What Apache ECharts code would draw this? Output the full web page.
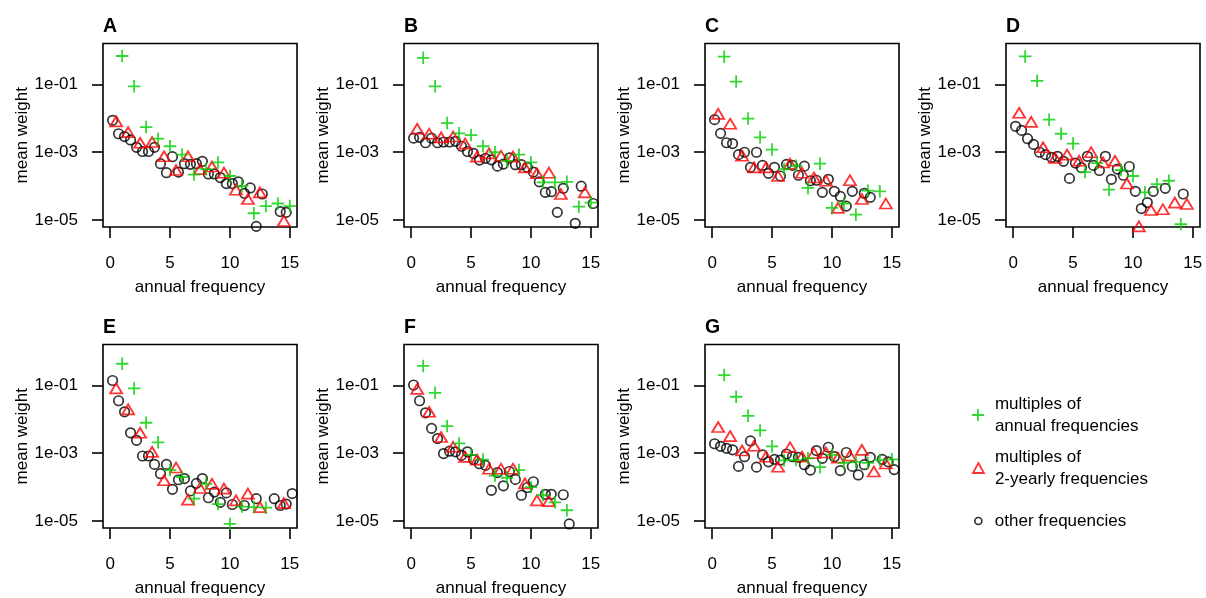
<!DOCTYPE html>
<html>
<head>
<meta charset="utf-8">
<script src="https://cdn.jsdelivr.net/npm/echarts@6/dist/echarts.min.js"></script>
<style>
html,body{margin:0;padding:0;background:#ffffff;}
#chart{width:1206px;height:598px;}
</style>
</head>
<body>
<div id="chart"></div>
<script>
// ---------------- data (mean weights) ----------------
const panelLabels = ['A', 'B', 'C', 'D', 'E', 'F', 'G'];
const xTicks = [0, 5, 10, 15];
const yTickExponents = [-5, -3, -1];

const annualFreq   = [1, 2, 3, 4, 5, 6, 7, 8, 9, 10, 11, 12, 13, 14, 15];
const biyearlyFreq = [0.5, 1.5, 2.5, 3.5, 4.5, 5.5, 6.5, 7.5, 8.5, 9.5, 10.5, 11.5, 12.5, 13.5, 14.5];
const otherFreq    = [0.2, 0.7, 1.2, 1.7, 2.2, 2.7, 3.2, 3.7, 4.2, 4.7, 5.2, 5.7, 6.2, 6.7, 7.2, 7.7,
                      8.2, 8.7, 9.2, 9.7, 10.2, 10.7, 11.2, 11.7, 12.2, 12.7, 13.2, 13.7, 14.2, 14.7, 15.2];

// Panel A
const A_annual   = [6.8e-1, 8.7e-2, 5.5e-3, 2.5e-3, 1.5e-3, 8.5e-4, 2.2e-4, 3.2e-4, 5.0e-4, 2.0e-4, 1.0e-4, 1.6e-5, 2.6e-5, 3.1e-5, 2.6e-5];
const A_biyearly = [8.1e-3, 3.9e-3, 1.9e-3, 2.0e-3, 7.6e-4, 3.0e-4, 7.6e-4, 3.2e-4, 3.8e-4, 2.5e-4, 7.9e-5, 4.2e-5, 6.6e-5, null, 9.5e-6];
const A_other    = [8.7e-3, 3.5e-3, 2.9e-3, 2.3e-3, 1.4e-3, 1.05e-3, 1.05e-3, 1.4e-3, 4.6e-4, 2.5e-4, 7.4e-4, 2.6e-4, 4.6e-4, 4.4e-4, 4.6e-4, 5.4e-4,
                    2.3e-4, 2.3e-4, 1.8e-4, 1.2e-4, 1.2e-4, 1.35e-4, 6.2e-5, 8.9e-5, 6.6e-6, 5.9e-5, null, null, 1.8e-5, 1.7e-5, null];
// Panel B
const B_annual   = [6.0e-1, 8.7e-2, 7.2e-3, 3.6e-3, 3.2e-3, 1.5e-3, 1.0e-3, 5.6e-4, 8.5e-4, 5.0e-4, 1.3e-4, 1.3e-4, 1.35e-4, 2.5e-5, 3.3e-5];
const B_biyearly = [4.9e-3, 3.5e-3, 2.75e-3, 2.9e-3, 1.8e-3, 7.4e-4, 9.3e-4, 7.9e-4, 7.4e-4, 3.6e-4, 2.4e-4, 2.5e-4, 5.9e-5, null, 6.6e-5];
const B_other    = [2.6e-3, 2.75e-3, 1.9e-3, 2.6e-3, 1.9e-3, 2.0e-3, 2.0e-3, 2.1e-3, 1.5e-3, 1.05e-3, 9.3e-4, 5.9e-4, 6.6e-4, 6.0e-4, 3.9e-4, 4.5e-4,
                    6.8e-4, 4.3e-4, 4.3e-4, 3.6e-4, 2.6e-4, 1.35e-4, 6.6e-5, 6.9e-5, 1.7e-5, 8.7e-5, null, 8.1e-6, 1.0e-4, null, 3.1e-5];
// Panel C
const C_annual   = [6.5e-1, 1.2e-1, 9.8e-3, 2.75e-3, 1.2e-3, 3.2e-4, 4.0e-4, 8.9e-5, 4.6e-4, 2.3e-5, 3.1e-5, 1.45e-5, 7.4e-5, 7.1e-5, null];
const C_biyearly = [1.35e-2, 6.9e-3, 7.9e-4, 3.6e-4, 3.6e-4, 2.0e-4, 4.6e-4, 2.5e-4, 1.8e-4, 1.45e-4, 2.3e-5, 1.5e-4, 4.2e-5, null, 3.1e-5];
const C_other    = [9.1e-3, 3.6e-3, 1.9e-3, 1.8e-3, 8.5e-4, 1.0e-3, 3.6e-4, 1.0e-3, 4.1e-4, 2.4e-4, 3.6e-4, 2.0e-4, 4.4e-4, 4.1e-4, 2.1e-4, 3.9e-4,
                    1.45e-4, 1.5e-4, 6.6e-5, 1.6e-4, 7.1e-5, 5.0e-5, 2.6e-5, 7.1e-5, null, 6.2e-5, 4.7e-5, null, null, null, null];
// Panel D
const D_annual   = [6.6e-1, 1.26e-1, 9.1e-3, 3.5e-3, 1.8e-3, 2.6e-4, 4.8e-4, 7.9e-5, 3.0e-4, 2.0e-4, 6.6e-5, 1.15e-4, 1.45e-4, 7.6e-6, null];
const D_biyearly = [1.45e-2, 7.8e-3, 1.4e-3, 6.8e-4, 8.5e-4, 5.6e-4, 1.0e-3, 5.0e-4, 5.6e-4, 1.2e-4, 6.6e-6, 2.0e-5, 2.1e-5, 3.3e-5, 3.0e-5];
const D_other    = [5.8e-3, 4.4e-3, 2.5e-3, 1.7e-3, 1.0e-3, 8.5e-4, 7.1e-4, 7.6e-4, 5.4e-4, 1.7e-4, 4.8e-4, 3.5e-4, 7.6e-4, 4.1e-4, 2.9e-4, 7.6e-4,
                    1.6e-4, 3.2e-4, 2.1e-4, 3.8e-4, 7.1e-5, 2.2e-5, 3.3e-5, 7.1e-5, null, 8.7e-5, null, null, 5.9e-5, null, null];
// Panel E
const E_annual   = [4.3e-1, 8.1e-2, 7.9e-3, 2.1e-3, 3.2e-4, 2.0e-4, 4.6e-5, 1.26e-4, 3.2e-5, 8.3e-6, 2.7e-5, 2.6e-5, 2.5e-5, null, null];
const E_biyearly = [8.1e-2, 1.95e-2, 4.0e-3, 1.1e-3, 1.6e-4, 3.8e-4, 4.3e-5, 9.5e-5, 1.26e-4, 9.1e-5, 4.1e-5, 6.5e-5, 2.6e-5, null, 3.4e-5];
const E_other    = [1.38e-1, 3.5e-2, 1.66e-2, 4.0e-3, 2.4e-3, 8.3e-4, 8.3e-4, 4.7e-4, 2.5e-4, 4.7e-4, 8.7e-5, 1.66e-4, 1.8e-4, 7.8e-5, 1.3e-4, 1.8e-4,
                    4.9e-5, 7.2e-5, 3.6e-5, 6.8e-5, 3.1e-5, null, 2.9e-5, null, 4.6e-5, null, null, 4.6e-5, 2.9e-5, 3.2e-5, 6.5e-5];
// Panel F
const F_annual   = [3.7e-1, 6.0e-2, 6.3e-3, 1.95e-3, 8.9e-4, 6.5e-4, 2.2e-4, 1.9e-4, 3.2e-4, 1.0e-4, 5.8e-5, 3.6e-5, 2.1e-5, null, null];
const F_biyearly = [7.8e-2, 1.66e-2, 3.0e-3, 1.55e-3, 7.8e-4, 6.5e-4, 3.5e-4, 3.5e-4, 3.5e-4, 1.3e-4, 4.1e-5, 3.9e-5, null, null, null];
const F_other    = [1.02e-1, 3.5e-2, 1.55e-2, 5.4e-3, 2.7e-3, 9.8e-4, 1.15e-3, 1.1e-3, 8.7e-4, 1.1e-3, 6.5e-4, 4.9e-4, 4.4e-4, 8.1e-5, 2.7e-4, 1.1e-4,
                    2.9e-4, 1.7e-4, 5.8e-5, 9.8e-5, 1.45e-4, null, 6.2e-5, 6.2e-5, null, 6.0e-5, 8.3e-6, null, null, null, null];
// Panel G
const G_annual   = [2.0e-1, 4.6e-2, 1.26e-2, 4.7e-3, 1.6e-3, 6.2e-4, 6.3e-4, 7.1e-4, 3.9e-4, 8.9e-4, 5.2e-4, 5.6e-4, 5.2e-4, 6.3e-4, 6.6e-4];
const G_biyearly = [5.9e-3, 3.2e-3, 1.2e-3, 1.66e-3, 7.9e-4, 4.0e-4, 1.5e-3, 7.9e-4, 1.0e-3, 1.05e-3, 7.4e-4, 8.5e-4, 1.26e-3, 2.9e-4, 5.0e-4];
const G_other    = [1.9e-3, 1.6e-3, 1.4e-3, 1.26e-3, 4.1e-4, 7.9e-4, 2.3e-3, 3.9e-4, 8.9e-4, 5.6e-4, 6.6e-4, 6.3e-4, 9.5e-4, 7.9e-4, 7.6e-4, 4.6e-4,
                    3.2e-4, 1.2e-3, 7.1e-4, 1.5e-3, 7.9e-4, 3.1e-4, 1.05e-3, 4.1e-4, 2.3e-4, 4.6e-4, 7.6e-4, null, 6.6e-4, 5.6e-4, 3.3e-4];

const legendNames = ['multiples of\nannual frequencies', 'multiples of\n2-yearly frequencies', 'other frequencies'];

// ---------------- chart ----------------
const annualSets   = [A_annual, B_annual, C_annual, D_annual, E_annual, F_annual, G_annual];
const biyearlySets = [A_biyearly, B_biyearly, C_biyearly, D_biyearly, E_biyearly, F_biyearly, G_biyearly];
const otherSets    = [A_other, B_other, C_other, D_other, E_other, F_other, G_other];

const FONT = '"Liberation Sans", Arial, Helvetica, sans-serif';
const GREEN = '#00CD00', RED = '#FF0000', BLACK = '#000000';
const PLUS = 'path://M0,6L12,6M6,0L6,12';

const colLeft = [103, 404, 705, 1006];
const rowTop = [43.5, 344.5];
const gridW = 194, gridH = 183.5;

function pairs(xs, ws) {
  const out = [];
  for (let i = 0; i < xs.length; i++) {
    if (ws[i] != null) out.push([xs[i], Math.log10(ws[i])]);
  }
  return out;
}
function expLabel(v) {
  const e = Math.round(v);
  const a = Math.abs(e);
  return '1e' + (e < 0 ? '-' : '+') + (a < 10 ? '0' + a : String(a));
}

const grids = [], xAxes = [], yAxes = [], titles = [], series = [];
panelLabels.forEach((lab, p) => {
  const left = colLeft[p % 4], top = rowTop[Math.floor(p / 4)];
  grids.push({left: left, top: top, width: gridW, height: gridH, show: true,
              borderColor: BLACK, borderWidth: 1.6, backgroundColor: 'transparent', containLabel: false});
  titles.push({text: lab, left: left, top: top - 27, padding: 0,
               textStyle: {fontFamily: FONT, fontSize: 19.5, fontWeight: 'bold', color: BLACK}});
  xAxes.push({
    type: 'value', gridIndex: p, position: 'bottom', min: -0.6, max: 15.6,
    name: 'annual frequency', nameLocation: 'middle', nameGap: 52,
    nameTextStyle: {fontFamily: FONT, fontSize: 17, color: BLACK},
    axisLine: {show: false, onZero: false},
    axisTick: {show: true, inside: false, length: 11, customValues: xTicks, lineStyle: {color: BLACK, width: 1.6}},
    axisLabel: {show: true, margin: 28, customValues: xTicks, fontFamily: FONT, fontSize: 17, color: BLACK},
    splitLine: {show: false}
  });
  yAxes.push({
    type: 'value', gridIndex: p, position: 'left', min: -5.2, max: 0.2,
    name: 'mean weight', nameLocation: 'middle', nameGap: 72, nameRotate: 90,
    nameTextStyle: {fontFamily: FONT, fontSize: 17, color: BLACK},
    axisLine: {show: false, onZero: false},
    axisTick: {show: true, inside: false, length: 11, customValues: yTickExponents, lineStyle: {color: BLACK, width: 1.6}},
    axisLabel: {show: true, margin: 25, customValues: yTickExponents, formatter: expLabel,
                fontFamily: FONT, fontSize: 17, color: BLACK},
    splitLine: {show: false}
  });
  series.push({
    type: 'scatter', name: legendNames[2], xAxisIndex: p, yAxisIndex: p,
    symbol: 'circle', symbolSize: 9.5,
    itemStyle: {color: 'rgba(0,0,0,0)', borderColor: BLACK, borderWidth: 1.7},
    data: pairs(otherFreq, otherSets[p])
  });
  series.push({
    type: 'scatter', name: legendNames[1], xAxisIndex: p, yAxisIndex: p,
    symbol: 'triangle', symbolSize: [12, 10],
    itemStyle: {color: 'rgba(0,0,0,0)', borderColor: RED, borderWidth: 1.8},
    data: pairs(biyearlyFreq, biyearlySets[p])
  });
  series.push({
    type: 'scatter', name: legendNames[0], xAxisIndex: p, yAxisIndex: p,
    symbol: PLUS, symbolSize: 12.5,
    itemStyle: {color: 'rgba(0,0,0,0)', borderColor: GREEN, borderWidth: 1.8},
    data: pairs(annualFreq, annualSets[p])
  });
});

const legendText = {fontFamily: FONT, fontSize: 17, color: BLACK, lineHeight: 22};
const legends = [
  {left: 971, top: 393, padding: 0, itemWidth: 12, itemHeight: 12, selectedMode: false, orient: 'vertical',
   textStyle: Object.assign({padding: [0, 0, 0, 6]}, legendText),
   data: [{name: legendNames[0], icon: PLUS,
           itemStyle: {color: 'rgba(0,0,0,0)', borderColor: GREEN, borderWidth: 1.8}}]},
  {left: 972, top: 446, padding: 0, itemWidth: 11, itemHeight: 10, selectedMode: false, orient: 'vertical',
   textStyle: Object.assign({padding: [0, 0, 0, 6]}, legendText),
   data: [{name: legendNames[1], icon: 'triangle',
           itemStyle: {color: 'rgba(0,0,0,0)', borderColor: RED, borderWidth: 1.8}}]},
  {left: 974, top: 510, padding: 0, itemWidth: 7, itemHeight: 7, selectedMode: false, orient: 'vertical',
   textStyle: Object.assign({padding: [0, 0, 0, 8]}, legendText),
   data: [{name: legendNames[2], icon: 'circle',
           itemStyle: {color: 'rgba(0,0,0,0)', borderColor: BLACK, borderWidth: 1.7}}]}
];

const chart = echarts.init(document.getElementById('chart'), null, {renderer: 'canvas'});
chart.setOption({
  animation: false,
  backgroundColor: '#ffffff',
  textStyle: {fontFamily: FONT},
  title: titles,
  legend: legends,
  grid: grids,
  xAxis: xAxes,
  yAxis: yAxes,
  series: series
});
</script>
</body>
</html>
